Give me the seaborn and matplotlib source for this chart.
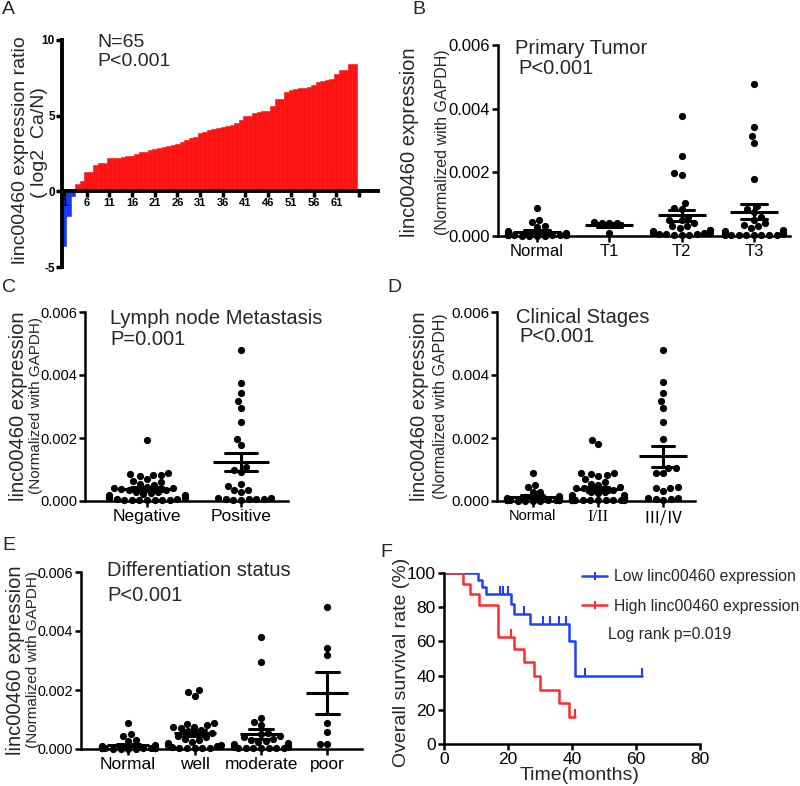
import numpy as np
import pandas as pd
import matplotlib
matplotlib.use('Agg')
import matplotlib.pyplot as plt
import seaborn as sns
from matplotlib.lines import Line2D

sns.set_theme(style='ticks')
plt.rcParams['font.family'] = ['Liberation Sans', 'DejaVu Sans']
plt.rcParams['axes.edgecolor'] = 'black'
plt.rcParams['axes.linewidth'] = 1.8
plt.rcParams['xtick.color'] = 'black'
plt.rcParams['ytick.color'] = 'black'

# Panel A: log2(Ca/N) per patient, sorted
ratio_log2 = [-3.64, -1.63, -0.29, 0.49, 0.67, 1.27, 1.27, 1.72, 1.88, 1.88,
              2.18, 2.2, 2.22, 2.25, 2.32, 2.35, 2.46, 2.58, 2.62, 2.7,
              2.82, 2.88, 2.92, 2.98, 3.06, 3.15, 3.25, 3.4, 3.5, 3.62,
              3.85, 3.9, 4.02, 4.1, 4.17, 4.25, 4.3, 4.38, 4.5, 4.72,
              4.95, 5.0, 5.15, 5.25, 5.3, 5.3, 5.67, 6.12, 6.12, 6.56,
              6.72, 6.78, 6.8, 6.85, 6.9, 7.05, 7.2, 7.28, 7.35, 7.45,
              7.75, 8.0, 8.05, 8.4, 8.4]

# expression values (x 1e-3, normalized with GAPDH)
normal = [0.88, 0.5, 0.45, 0.3, 0.28, 0.15, 0.1, 0.08, 0.06, 0.05, 0.05, 0.04,
          0.04, 0.03, 0.03, 0.03, 0.02, 0.02, 0.02, 0.02, 0.01, 0.01, 0.01, 0.01]
t1 = [0.43, 0.42, 0.42, 0.40, 0.10]
t2 = [3.76, 2.5, 1.98, 1.93, 1.05, 0.88, 0.85, 0.6, 0.5, 0.5, 0.4, 0.3, 0.3,
      0.25, 0.2, 0.2, 0.15, 0.1, 0.1, 0.08, 0.05, 0.05, 0.05, 0.03, 0.03, 0.03]
t3 = [4.78, 3.42, 3.15, 2.93, 1.78, 0.95, 0.85, 0.75, 0.6, 0.5, 0.4, 0.35, 0.3,
      0.25, 0.2, 0.15, 0.12, 0.1, 0.08, 0.06, 0.05, 0.04, 0.04, 0.04, 0.04,
      0.04, 0.04, 0.04, 0.04]
negative = [1.95, 0.88, 0.85, 0.83, 0.82, 0.8, 0.7, 0.65, 0.6, 0.55, 0.5, 0.45,
            0.42, 0.4, 0.38, 0.35, 0.35, 0.3, 0.28, 0.25, 0.22, 0.2, 0.18, 0.15,
            0.12, 0.1, 0.08, 0.06, 0.05, 0.04, 0.03, 0.03, 0.02, 0.02, 0.02, 0.02]
positive = [4.78, 3.76, 3.43, 3.16, 2.95, 2.51, 1.98, 1.79, 1.08, 0.99, 0.91,
            0.53, 0.49, 0.34, 0.34, 0.3, 0.1, 0.08, 0.07, 0.06, 0.05, 0.05,
            0.04, 0.03]
stage12 = [1.95, 1.8, 0.9, 0.88, 0.85, 0.82, 0.8, 0.7, 0.6, 0.55, 0.5, 0.45,
           0.42, 0.4, 0.35, 0.3, 0.28, 0.25, 0.2, 0.18, 0.15, 0.12, 0.1, 0.08,
           0.06, 0.05, 0.04, 0.03, 0.03, 0.02, 0.02, 0.02, 0.02, 0.02, 0.02,
           0.02, 0.02, 0.02]
stage34 = [4.8, 3.78, 3.42, 3.17, 2.95, 2.5, 1.98, 1.05, 1.05, 0.9, 0.88, 0.45,
           0.42, 0.4, 0.33, 0.1, 0.08, 0.06, 0.05, 0.04]
well = [2.0, 1.93, 1.8, 0.88, 0.85, 0.8, 0.76, 0.73, 0.7, 0.65, 0.6, 0.55, 0.5,
        0.45, 0.4, 0.35, 0.3, 0.25, 0.2, 0.15, 0.12, 0.1, 0.08, 0.05, 0.04,
        0.03, 0.02, 0.02]
moderate = [3.78, 2.96, 1.05, 0.9, 0.8, 0.55, 0.5, 0.45, 0.4, 0.35, 0.3, 0.28,
            0.25, 0.2, 0.18, 0.15, 0.12, 0.1, 0.08, 0.06, 0.05, 0.04, 0.03,
            0.03, 0.02, 0.02, 0.02]
poor = [4.8, 3.44, 3.18, 0.88, 0.56, 0.17, 0.17]

# Kaplan-Meier curves
low_time = [0, 10.6, 11.9, 13.0, 21.0, 22.0, 27.0, 39.0, 41.0, 62.0]
low_surv = [100, 96, 92, 88, 82, 76, 70, 60, 40, 40]
low_censor = [10.0, 17.5, 18.3, 20.0, 25.0, 31.0, 33.0, 36.0, 38.0, 44.0, 62.0]
high_time = [0, 6.0, 8.0, 11.0, 17.0, 22.0, 25.0, 28.0, 30.0, 36.0, 39.0, 41.0]
high_surv = [100, 93.8, 87.5, 81.3, 62.5, 55.6, 47.9, 40.0, 31.6, 23.7, 15.8, 15.8]
high_censor = [21.0, 41.0]

RED = '#fe1212'
BLUE = '#1438ff'
KM_BLUE = '#1f3fff'
KM_RED = '#ff2a2a'

W, H = 800, 786
fig = plt.figure(figsize=(8, 7.86), dpi=100)


def add_ax(l, t, r, b):
    return fig.add_axes([l / W, 1 - b / H, (r - l) / W, (b - t) / H])


def ftext(x, y, s, **kw):
    kw.setdefault('va', 'top')
    return fig.text(x / W, 1 - y / H, s, **kw)


def dot_panel(ax, groups, names, mean_ms, xlim, ysize=12):
    df = pd.DataFrame({'group': np.repeat(names, [len(g) for g in groups]),
                       'value': np.concatenate(groups) * 1e-3})
    sns.swarmplot(data=df, x='group', y='value', order=names, color='black',
                  size=5.2, linewidth=0, clip_on=False, warn_thresh=1, ax=ax)
    sns.pointplot(data=df, x='group', y='value', order=names, errorbar='se',
                  capsize=0.35, color='black', markers='_', linestyles='none',
                  markersize=mean_ms, markeredgewidth=2.2,
                  err_kws={'linewidth': 2.2}, ax=ax)
    ax.set_ylim(0, 0.006)
    ax.set_xlim(*xlim)
    ax.set_yticks([0, 0.002, 0.004, 0.006])
    ax.set_yticklabels(['0.000', '0.002', '0.004', '0.006'])
    ax.set_xlabel('')
    ax.set_ylabel('')
    sns.despine(ax=ax)
    ax.tick_params(direction='out', length=4, width=1.8, labelsize=12, pad=2)
    ax.tick_params(axis='y', labelsize=ysize, pad=1.5)


def dot_ylabel(x_main, x_sub, y_mid, sub_size=11.5):
    ftext(x_main, y_mid, 'linc00460 expression', rotation=90, ha='center',
          va='center', fontsize=14.5)
    ftext(x_sub, y_mid, '(Normalized with GAPDH)', rotation=90, ha='center',
          va='center', fontsize=sub_size)


# ---------------- A
axA = add_ax(61.7, 40, 378, 267)
idx = np.arange(1, len(ratio_log2) + 1)
sign = np.where(np.array(ratio_log2) < 0, 'down', 'up')
sns.barplot(x=idx, y=ratio_log2, hue=sign, palette={'down': BLUE, 'up': RED},
            native_scale=True, width=1.0, dodge=False, errorbar=None,
            saturation=1, legend=False, ax=axA)
for p in axA.patches:
    p.set_edgecolor(p.get_facecolor())
    p.set_linewidth(0.4)
    p.set_zorder(1)
axA.set_xlim(0.5, 70.2)
axA.set_ylim(-5, 10)
axA.set_yticks([-5, 0, 5, 10])
axA.set_yticklabels(['-5', '0', '5', '10'])
ticks = list(range(1, 67, 5))
axA.set_xticks(ticks)
axA.set_xticklabels([str(t) if t < 66 else '' for t in ticks])
axA.spines['bottom'].set_position(('data', 0))
axA.spines['bottom'].set_linewidth(2.8)
axA.spines['left'].set_linewidth(2.8)
sns.despine(ax=axA)
axA.xaxis.set_zorder(5)
axA.spines['bottom'].set_zorder(5)
axA.tick_params(axis='x', direction='out', length=4, width=2.5, labelsize=8, pad=1)
axA.tick_params(axis='y', direction='out', length=4, width=2.5, labelsize=8.5, pad=1)
for lab in axA.get_xticklabels() + axA.get_yticklabels():
    lab.set_fontweight('bold')
ftext(21, 150, 'linc00460 expression ratio', rotation=90, ha='center', va='center', fontsize=14)
ftext(40, 143, '( log2  Ca/N)', rotation=90, ha='center', va='center', fontsize=14)
ftext(97, 34, 'N=65', fontsize=14)
ftext(97, 53, 'P<0.001', fontsize=14)

# ---------------- B
axB = add_ax(498, 45, 790, 236)
dot_panel(axB, [normal, t1, t2, t3], ['Normal', 'T1', 'T2', 'T3'], 34, (-0.54, 3.5))
dot_ylabel(410, 442, 142)
ftext(515, 39, 'Primary Tumor', fontsize=14.5)
ftext(518, 59, 'P<0.001', fontsize=14.5)

# ---------------- C
axC = add_ax(85, 312, 288, 501)
dot_panel(axC, [negative, positive], ['Negative', 'Positive'], 40, (-0.66, 1.5), ysize=10.5)
axC.tick_params(axis='x', labelsize=12.5)
dot_ylabel(19, 36.5, 406, sub_size=11)
ftext(110, 309, 'Lymph node Metastasis', fontsize=14.5)
ftext(110, 330, 'P=0.001', fontsize=14.5)

# ---------------- D
axD = add_ax(497, 312, 695, 501)
dot_panel(axD, [normal, stage12, stage34], ['Normal', 'I/II', 'Ⅲ/Ⅳ'], 34,
          (-0.55, 2.49), ysize=11)
xl = axD.get_xticklabels()
xl[0].set_fontsize(10.5)
xl[1].set_fontfamily(['Liberation Serif'])
xl[2].set_fontfamily(['Noto Sans CJK SC', 'DejaVu Sans'])
dot_ylabel(419, 441, 406)
ftext(516, 308, 'Clinical Stages', fontsize=14.5)
ftext(519, 327, 'P<0.001', fontsize=14.5)

# ---------------- E
axE = add_ax(81, 572, 362, 749)
dot_panel(axE, [normal, well, moderate, poor], ['Normal', 'well', 'moderate', 'poor'],
          30, (-0.71, 3.52), ysize=10.3)
axE.tick_params(axis='x', labelsize=12.5)
dot_ylabel(16, 33.5, 660, sub_size=11)
ftext(107, 561, 'Differentiation status', fontsize=14.5)
ftext(107, 586, 'P<0.001', fontsize=14.5)

# ---------------- F
axF = add_ax(444, 573, 700, 744)
sns.lineplot(x=low_time, y=low_surv, drawstyle='steps-post', estimator=None,
             sort=False, color=KM_BLUE, linewidth=1.8, ax=axF)
sns.lineplot(x=high_time, y=high_surv, drawstyle='steps-post', estimator=None,
             sort=False, color=KM_RED, linewidth=1.8, ax=axF)


def surv_at(times, surv, t):
    i = np.searchsorted(times, t, side='right') - 1
    return np.array(surv)[i]


axF.plot(low_censor, surv_at(low_time, low_surv, low_censor), ls='none',
         marker=2, ms=6, mew=1.5, color=KM_BLUE)
axF.plot(high_censor, surv_at(high_time, high_surv, high_censor), ls='none',
         marker=2, ms=6, mew=1.5, color=KM_RED)
axF.set_xlim(0, 80)
axF.set_ylim(0, 100)
axF.set_xticks([0, 20, 40, 60, 80])
axF.set_yticks([0, 20, 40, 60, 80, 100])
sns.despine(ax=axF)
axF.tick_params(direction='out', length=4, width=1.8, labelsize=12.5, pad=2)
ftext(401, 662, 'Overall survival rate (%)', rotation=90, ha='center', va='center', fontsize=14)
ftext(580, 776, 'Time(months)', ha='center', va='center', fontsize=14)
handles = [Line2D([], [], color=KM_BLUE, lw=1.8, marker='|', ms=6, mew=1.5),
           Line2D([], [], color=KM_RED, lw=1.8, marker='|', ms=6, mew=1.5)]
axF.legend(handles, ['Low linc00460 expression', 'High linc00460 expression'],
           loc='upper left', bbox_to_anchor=(582 / W, 1 - 569 / H),
           bbox_transform=fig.transFigure, frameon=False, fontsize=11.3,
           handlelength=1.6, handletextpad=0.45, labelspacing=0.95,
           borderpad=0, borderaxespad=0)
ftext(608, 634, 'Log rank p=0.019', va='center', fontsize=11.3)

# panel letters
for x, y, s in [(2, 1, 'A'), (412, 1, 'B'), (2, 279, 'C'), (387, 279, 'D'),
                (2, 537, 'E'), (380, 544, 'F')]:
    ftext(x, y, s, fontsize=14)

fig.savefig('out.png', dpi=100)
